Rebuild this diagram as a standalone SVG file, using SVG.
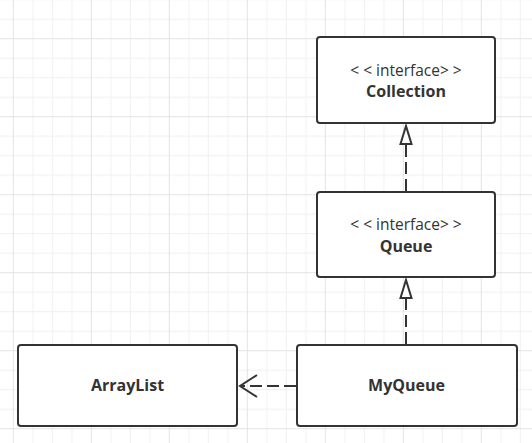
<svg xmlns="http://www.w3.org/2000/svg" width="532" height="443" viewBox="0 0 532 443">
  <defs>
    <pattern id="grid" patternUnits="userSpaceOnUse" x="12.8" y="38.2" width="78" height="78">
      <path d="M0.5 0V78M20 0V78M39.5 0V78M59 0V78M0 0.5H78M0 20H78M0 39.5H78M0 59H78" stroke="#f0f0f0" stroke-width="1" fill="none"/>
      <path d="M0.5 0V78M0 0.5H78" stroke="#e3e3e3" stroke-width="1" fill="none"/>
    </pattern>
  </defs>
  <style>
    .box { fill: #ffffff; stroke: #333333; stroke-width: 2; }
    .stereo { font-family: "Open Sans", "Noto Sans", sans-serif; font-size: 15.5px; fill: #333333; text-anchor: middle; }
    .lt { letter-spacing: 4px; }
    .name { font-family: "Open Sans", "Noto Sans", sans-serif; font-size: 16px; font-weight: bold; fill: #333333; text-anchor: middle; }
    .dash { stroke: #333333; stroke-width: 2; fill: none; stroke-dasharray: 12 5; }
    .head { stroke: #333333; stroke-width: 2; fill: #ffffff; stroke-linejoin: miter; }
    .open { stroke: #333333; stroke-width: 2; fill: none; }
  </style>
  <rect width="532" height="443" fill="#ffffff"/>
  <rect width="532" height="443" fill="url(#grid)"/>

  <g id="connectors">
    <path class="dash" d="M406 191V144"/>
    <path class="head" d="M406 126L400.5 144H411.5Z"/>
    <path class="dash" d="M406 344V298"/>
    <path class="head" d="M406 280L400.5 298H411.5Z"/>
    <path class="dash" d="M296 386H241"/>
    <path class="open" d="M257 375L240 386L257 397"/>
  </g>

  <g id="collection">
    <rect class="box" x="317" y="37" width="178" height="86" rx="3"/>
    <text class="stereo" x="408" y="76"><tspan class="lt">&lt;&lt;</tspan>interface<tspan class="lt">&gt;&gt;</tspan></text>
    <text class="name" x="406" y="97">Collection</text>
  </g>

  <g id="queue">
    <rect class="box" x="317" y="192" width="178" height="85" rx="3"/>
    <text class="stereo" x="408" y="230"><tspan class="lt">&lt;&lt;</tspan>interface<tspan class="lt">&gt;&gt;</tspan></text>
    <text class="name" x="406" y="251.5">Queue</text>
  </g>

  <g id="arraylist">
    <rect class="box" x="18" y="345" width="219" height="81" rx="3"/>
    <text class="name" x="127.5" y="391">ArrayList</text>
  </g>

  <g id="myqueue">
    <rect class="box" x="297" y="345" width="220" height="81" rx="3"/>
    <text class="name" x="406.5" y="391">MyQueue</text>
  </g>
</svg>
